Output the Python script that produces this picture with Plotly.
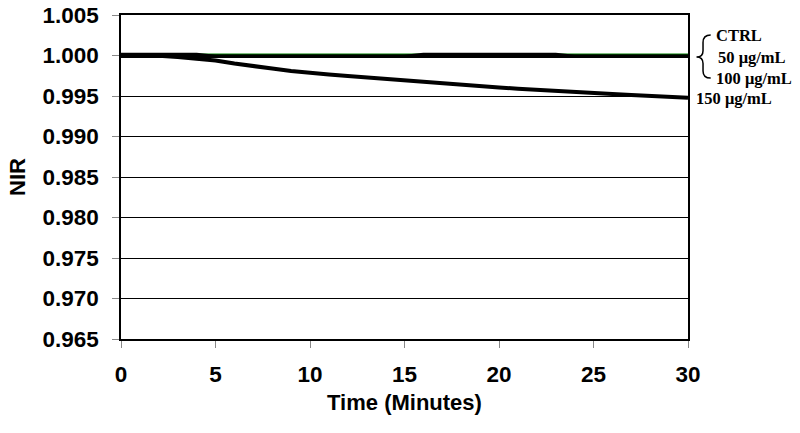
import plotly.graph_objects as go

time_min = list(range(0, 31))
nir_150 = [1.00000, 1.00000, 0.99996, 0.99981, 0.99963, 0.99938, 0.99901, 0.99864,
           0.99839, 0.99809, 0.99783, 0.99765, 0.99747, 0.99728, 0.99710, 0.99691,
           0.99673, 0.99654, 0.99636, 0.99617, 0.99605, 0.99589, 0.99574, 0.99560,
           0.99548, 0.99537, 0.99525, 0.99512, 0.99500, 0.99489, 0.99478]
nir_ctrl = [1.00015] * 31
nir_100 = [0.99990] * 31
nir_50 = [1.00015 if (t <= 4 or 16 <= t <= 23) else 0.99990 for t in time_min]

y_ticks = [1.005, 1.000, 0.995, 0.990, 0.985, 0.980, 0.975, 0.970, 0.965]
x_ticks = [0, 5, 10, 15, 20, 25, 30]

labels = ["CTRL", "50 μg/mL", "100 μg/mL", "150 μg/mL"]
label_y = [1.00253, 0.99981, 0.99722, 0.99470]
label_x = [1.045, 1.049, 1.046, 1.011]

fig = go.Figure()
fig.add_trace(go.Scatter(x=time_min, y=nir_ctrl, mode="lines", line=dict(color="#008000", width=1.5), name="CTRL"))
fig.add_trace(go.Scatter(x=time_min, y=nir_100, mode="lines", line=dict(color="black", width=3.5), name="100"))
fig.add_trace(go.Scatter(x=time_min, y=nir_50, mode="lines", line=dict(color="black", width=3), name="50"))
fig.add_trace(go.Scatter(x=time_min, y=nir_150, mode="lines", line=dict(color="black", width=4), name="150"))

for txt, yy, xx in zip(labels, label_y, label_x):
    fig.add_annotation(x=xx, y=yy, xref="paper", yref="y", text=txt, showarrow=False,
                       xanchor="left", yanchor="middle",
                       font=dict(family="Liberation Serif", size=16.5, color="black", weight="bold"))

# curly brace
fig.add_shape(type="path", xref="paper", yref="y",
              path="M 1.0400,1.00253 Q 1.0265,1.00253 1.0265,1.0016 L 1.0265,1.0006 "
                   "Q 1.0265,0.99981 1.0150,0.99981 Q 1.0265,0.99981 1.0265,0.9990 "
                   "L 1.0265,0.9981 Q 1.0265,0.99722 1.0400,0.99722",
              line=dict(color="black", width=1.5))

tick_font = dict(family="Liberation Sans", size=22.5, color="black", weight="bold")
title_font = dict(family="Liberation Sans", size=22, color="black", weight="bold")
fig.update_layout(
    width=800, height=433,
    margin=dict(l=121, r=112, t=15, b=94),
    paper_bgcolor="white", plot_bgcolor="white",
    showlegend=False,
    xaxis=dict(range=[0, 30], tickvals=x_ticks, ticks="outside", ticklen=7, tickcolor="#888",
               tickfont=tick_font, showgrid=False, zeroline=False, automargin=False,
               showline=True, linecolor="black", linewidth=1.5, mirror=True,
               ticklabelstandoff=7,
               title=dict(text="Time (Minutes)", font=title_font, standoff=9)),
    yaxis=dict(range=[0.965, 1.005], tickvals=y_ticks, tickformat=".3f", ticks="outside", ticklen=7,
               tickcolor="#888", tickfont=tick_font, showgrid=True, gridcolor="black", gridwidth=1,
               zeroline=False, showline=True, linecolor="black", linewidth=1.5, mirror=True,
               ticklabelstandoff=9, automargin=False,
               title=dict(text="NIR", font=title_font, standoff=11)),
)

fig.write_html("out.html", config={"displayModeBar": False},
               post_script="document.body.style.margin='0';")
